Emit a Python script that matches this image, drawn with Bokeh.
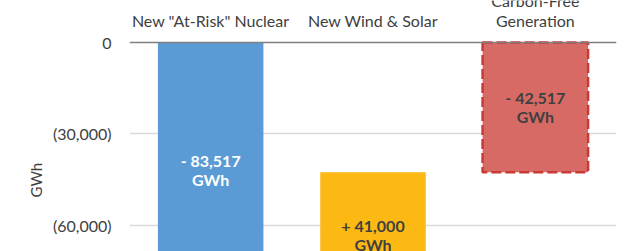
from bokeh.plotting import figure
from bokeh.models import ColumnDataSource, Range1d, FixedTicker, FactorRange, Title
from bokeh.core.properties import value
from bokeh.embed import file_html
from bokeh.resources import INLINE

# ---- data ----
categories = ['New "At-Risk" Nuclear', "New Wind & Solar", "Carbon-Free\nGeneration"]
changes = [-83517, 41000]          # step changes
net_total = -42517                 # resulting total
bar_texts = ["- 83,517\nGWh", "+ 41,000\nGWh", "- 42,517\nGWh"]
y_ticks = [0, -30000, -60000]
y_tick_labels = ["0", "(30,000)", "(60,000)"]
colors = ["#5B9BD5", "#FDB913", "#D86A65"]
text_colors = ["#FFFFFF", "#404040", "#404040"]

# waterfall geometry derived from data
bottoms, tops = [], []
run = 0
for c in changes:
    bottoms.append(run)
    run += c
    tops.append(run)
bottoms.append(0)
tops.append(net_total)
mids = [(b + t) / 2 for b, t in zip(bottoms, tops)]

FONT = "Lato"

p = figure(width=640, height=251, x_range=FactorRange(*categories),
           y_range=Range1d(-68525, 13770), output_backend="svg",
           toolbar_location=None, x_axis_location="above",
           min_border_left=129, min_border_right=24, min_border_top=0,
           min_border_bottom=0)
p.outline_line_color = None
p.background_fill_color = "white"
p.border_fill_color = "white"

src = ColumnDataSource(dict(x=categories[:2], b=bottoms[:2], t=tops[:2], c=colors[:2]))
p.vbar(x="x", bottom="b", top="t", width=0.65, fill_color="c", line_color=None, source=src)
src2 = ColumnDataSource(dict(x=categories[2:], b=bottoms[2:], t=tops[2:], c=colors[2:]))
p.vbar(x="x", bottom="b", top="t", width=0.65, fill_color="c", line_color="#C93A34",
       line_width=2.5, line_dash="10 4", source=src2)

tsrc = ColumnDataSource(dict(x=categories, y=mids, txt=bar_texts, tc=text_colors))
p.text(x="x", y="y", text="txt", text_color="tc", text_align="center",
       text_baseline="middle", text_font=value(FONT), text_font_size="16px",
       text_font_style="bold", text_line_height=1.0, source=tsrc)

# x axis (categories) on top, fixed at zero
xa = p.xaxis[0]
xa.fixed_location = 0
xa.axis_label = None
xa.axis_line_color = "#7F7F7F"
xa.axis_line_width = 1.5
xa.major_tick_line_color = None
xa.minor_tick_line_color = None
xa.major_tick_out = 0
xa.major_tick_in = 0
xa.major_label_text_font = FONT
xa.major_label_text_font_size = "16px"
xa.major_label_text_color = "#404040"
xa.major_label_standoff = 12
xa.major_label_text_line_height = 1.1

ya = p.yaxis[0]
ya.axis_label = None
ya.ticker = FixedTicker(ticks=y_ticks)
ya.major_label_overrides = dict(zip(y_ticks, y_tick_labels))
ya.axis_line_color = None
ya.major_tick_line_color = None
ya.minor_tick_line_color = None
ya.major_label_text_font = FONT
ya.major_label_text_font_size = "16px"
ya.major_label_text_color = "#404040"
ya.major_label_standoff = 12

p.xgrid.grid_line_color = None
p.ygrid.ticker = FixedTicker(ticks=y_ticks[1:])
p.ygrid.grid_line_color = "#D9D9D9"
p.ygrid.grid_line_width = 1.5

p.add_layout(Title(text="GWh", align="left", offset=54, text_font=FONT,
                   text_font_size="15px", text_font_style="normal",
                   text_color="#404040"), "left")

open("out.html", "w").write(file_html(p, INLINE))
